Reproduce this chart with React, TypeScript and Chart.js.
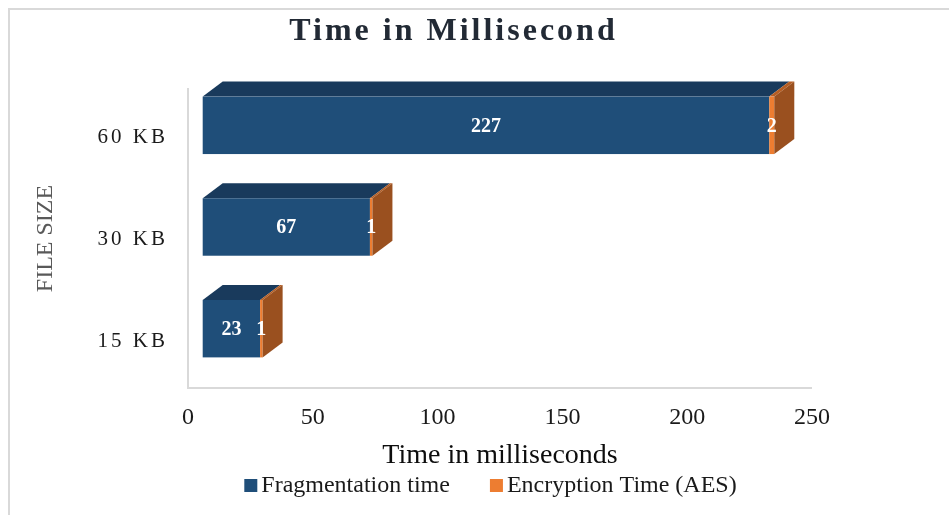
import React, { useEffect, useRef } from "react";
import { Chart, registerables } from "chart.js";

Chart.register(...registerables);

// ---- data ----
const categories = ["60 KB", "30 KB", "15 KB"];
const fragmentationTime = [227, 67, 23];
const encryptionTime = [2, 1, 1];
const xTickValues = [0, 50, 100, 150, 200, 250];
const seriesNames = ["Fragmentation time", "Encryption Time (AES)"];
const chartTitle = "Time in Millisecond";
const xAxisTitle = "Time in milliseconds";
const yAxisTitle = "FILE SIZE";

// ---- styles ----
const FONT = '"Liberation Serif", "Times New Roman", serif';
const frontColors = ["#1f4e79", "#ed7d31"];
const topColors = ["#193a5c", "#b55d23"];
const sideColors = ["#163a5c", "#9a501f"];
const SHIFT_X = 14.7;
const SHIFT_Y = -11.5;
const DEPTH_X = 20;
const DEPTH_Y = 15;

const threeDPlugin = {
  id: "threeD",
  beforeDraw(chart: any) {
    const ctx = chart.ctx;
    const area = chart.chartArea;
    ctx.save();
    // outer border (top/left visible)
    ctx.strokeStyle = "#d9d9d9";
    ctx.lineWidth = 2;
    ctx.strokeRect(9, 9, 1000, 600);
    // title
    ctx.font = `bold 32px ${FONT}`;
    (ctx as any).letterSpacing = "3px";
    ctx.fillStyle = "#222a35";
    ctx.textAlign = "center";
    ctx.textBaseline = "alphabetic";
    ctx.fillText(chartTitle, 453.5, 40);
    (ctx as any).letterSpacing = "0px";
    // wall + floor
    ctx.strokeStyle = "#d9d9d9";
    ctx.lineWidth = 2;
    ctx.beginPath();
    ctx.moveTo(area.left, area.top + 2);
    ctx.lineTo(area.left, area.bottom - 3);
    ctx.lineTo(area.right, area.bottom - 3);
    ctx.stroke();
    ctx.restore();
  },
  beforeDatasetsDraw(chart: any) {
    const ctx = chart.ctx;
    const metas = chart.data.datasets.map((_: any, i: number) => chart.getDatasetMeta(i));
    const n = chart.data.labels.length;
    const labelsToDraw: any[] = [];
    ctx.save();
    for (let j = 0; j < n; j++) {
      metas.forEach((meta: any, di: number) => {
        const el = meta.data[j];
        if (!el) return;
        const { x, y, base, height } = el.getProps(["x", "y", "base", "height"], true);
        const left = Math.min(x, base) + SHIFT_X;
        const right = Math.max(x, base) + SHIFT_X;
        const top = y - height / 2 + SHIFT_Y;
        const bottom = y + height / 2 + SHIFT_Y;
        // top face
        ctx.fillStyle = topColors[di];
        ctx.beginPath();
        ctx.moveTo(left, top);
        ctx.lineTo(left + DEPTH_X, top - DEPTH_Y);
        ctx.lineTo(right + DEPTH_X, top - DEPTH_Y);
        ctx.lineTo(right, top);
        ctx.closePath();
        ctx.fill();
        // front face
        ctx.fillStyle = frontColors[di];
        ctx.fillRect(left, top, right - left, bottom - top);
        // right face for last segment
        if (di === metas.length - 1) {
          ctx.fillStyle = sideColors[di];
          ctx.beginPath();
          ctx.moveTo(right, top);
          ctx.lineTo(right + DEPTH_X, top - DEPTH_Y);
          ctx.lineTo(right + DEPTH_X, bottom - DEPTH_Y);
          ctx.lineTo(right, bottom);
          ctx.closePath();
          ctx.fill();
        }
        const value = chart.data.datasets[di].data[j];
        labelsToDraw.push({ text: String(value), x: (left + right) / 2, y: (top + bottom) / 2 });
      });
    }
    ctx.font = `bold 20px ${FONT}`;
    ctx.fillStyle = "#ffffff";
    ctx.textAlign = "center";
    ctx.textBaseline = "middle";
    labelsToDraw.forEach((l) => ctx.fillText(l.text, l.x, l.y + 1));
    ctx.restore();
    return false;
  },
  afterDraw(chart: any) {
    const ctx = chart.ctx;
    const yScale = chart.scales.y;
    ctx.save();
    // y category labels
    ctx.font = `21px ${FONT}`;
    (ctx as any).letterSpacing = "3px";
    ctx.fillStyle = "#1a1a1a";
    ctx.textAlign = "right";
    ctx.textBaseline = "middle";
    categories.forEach((c, i) => {
      ctx.fillText(c, 168, yScale.getPixelForValue(i) + 1);
    });
    (ctx as any).letterSpacing = "0px";
    // legend
    ctx.font = `24px ${FONT}`;
    const box = 13;
    const gap = 4;
    const spacing = 40;
    const widths = seriesNames.map((s) => ctx.measureText(s).width);
    const total = widths.reduce((a, w) => a + box + gap + w, 0) + spacing * (seriesNames.length - 1);
    let cx = 490.5 - total / 2;
    const cy = 486;
    ctx.textAlign = "left";
    ctx.textBaseline = "middle";
    seriesNames.forEach((s, i) => {
      ctx.fillStyle = frontColors[i];
      ctx.fillRect(cx, cy - 7, box, box);
      ctx.fillStyle = "#1a1a1a";
      ctx.fillText(s, cx + box + gap, cy);
      cx += box + gap + widths[i] + spacing;
    });
    ctx.restore();
  },
};

export default function App() {
  const canvasRef = useRef<HTMLCanvasElement | null>(null);

  useEffect(() => {
    document.body.style.margin = "0";
    const canvas = canvasRef.current;
    if (!canvas) return;
    const chart = new Chart(canvas, {
      type: "bar",
      data: {
        labels: categories,
        datasets: [
          {
            label: seriesNames[0],
            data: fragmentationTime,
            backgroundColor: frontColors[0],
            barPercentage: 0.565,
            categoryPercentage: 1,
          },
          {
            label: seriesNames[1],
            data: encryptionTime,
            backgroundColor: frontColors[1],
            barPercentage: 0.565,
            categoryPercentage: 1,
          },
        ],
      },
      options: {
        indexAxis: "y",
        responsive: false,
        animation: false,
        devicePixelRatio: 1,
        layout: { padding: { left: 0, right: 137, top: 86, bottom: 43 } },
        plugins: {
          legend: { display: false },
          title: { display: false },
          tooltip: { enabled: false },
        },
        scales: {
          x: {
            type: "linear",
            stacked: true,
            min: 0,
            max: 250,
            afterBuildTicks: (s: any) => {
              s.ticks = xTickValues.map((v) => ({ value: v }));
            },
            grid: { display: false, drawTicks: false },
            border: { display: false },
            ticks: {
              font: { family: FONT, size: 24 },
              color: "#1a1a1a",
              padding: 12,
              maxRotation: 0,
            },
            title: {
              display: true,
              text: xAxisTitle,
              font: { family: FONT, size: 28 },
              color: "#0d0d0d",
              padding: { top: 0, bottom: 0 },
            },
            afterFit: (s: any) => {
              s.height = 81;
            },
          },
          y: {
            type: "category",
            stacked: true,
            grid: { display: false, drawTicks: false },
            border: { display: false },
            ticks: { display: false },
            title: {
              display: true,
              text: yAxisTitle,
              font: { family: FONT, size: 24 },
              color: "#595959",
              padding: { top: 31.6, bottom: 0 },
            },
            afterFit: (s: any) => {
              s.width = 188;
            },
          },
        },
      } as any,
      plugins: [threeDPlugin],
    });
    return () => chart.destroy();
  }, []);

  return (
    <div style={{ width: 949, height: 515, background: "#ffffff" }}>
      <canvas ref={canvasRef} width={949} height={515} />
    </div>
  );
}
